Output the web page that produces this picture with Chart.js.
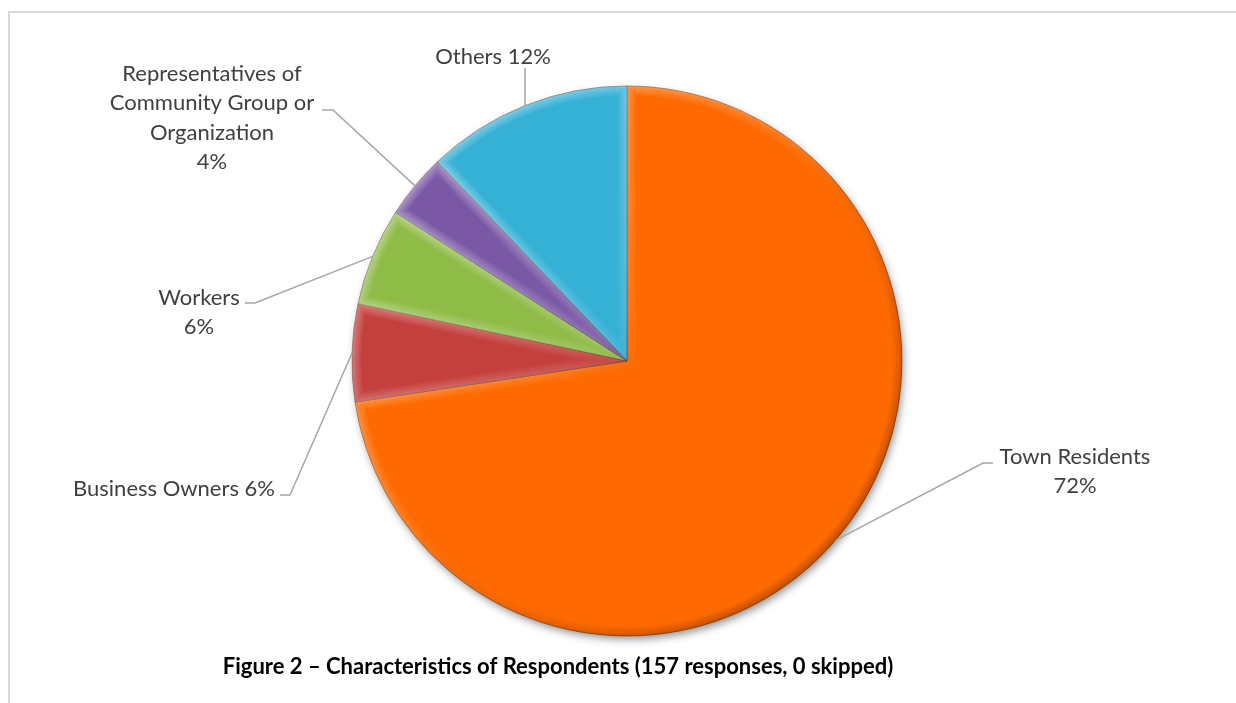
<!DOCTYPE html>
<html>
<head>
<meta charset="utf-8">
<title>Characteristics of Respondents</title>
<script src="https://cdn.jsdelivr.net/npm/chart.js@4.4.1/dist/chart.umd.min.js"></script>
<style>
  html, body { margin: 0; padding: 0; background: #fff; overflow: hidden; }
  #wrap { position: relative; width: 1236px; height: 703px; overflow: hidden; }
  #frame {
    position: absolute; left: 8px; top: 11px; width: 1260px; height: 740px;
    border: 2px solid #d9d9d9; box-sizing: border-box;
  }
  canvas { position: absolute; left: 0; top: 0; }
</style>
</head>
<body>
<div id="wrap">
  <div id="frame"></div>
  <canvas id="respondents-chart" width="1236" height="703"></canvas>
</div>
<script>
// Survey data (157 responses)
const categories = ['Town Residents', 'Business Owners', 'Workers',
  'Representatives of Community Group or Organization', 'Others'];
const responses = [114, 9, 9, 6, 19];
const percentLabels = ['72%', '6%', '6%', '4%', '12%'];
const sliceColors = ['#ff6a00', '#c4403d', '#8fbb47', '#7b58a6', '#36b1d6'];
const figureTitle = 'Figure 2 \u2013 Characteristics of Respondents (157 responses, 0 skipped)';

// label layout: text lines, text anchor, and the elbow of the leader line
const labelLayout = [
  { lines: [categories[0], percentLabels[0]], x: 1075, y: 457, elbow: [983, 463], end: [993, 463] },
  { lines: [categories[1] + ' ' + percentLabels[1]], x: 174, y: 489, elbow: [290, 495], end: [280, 495] },
  { lines: [categories[2], percentLabels[2]], x: 199, y: 298, elbow: [255, 303], end: [245, 303] },
  { lines: ['Representatives of', 'Community Group or', 'Organization', percentLabels[3]], x: 212, y: 74, elbow: [333, 110], end: [322, 110] },
  { lines: [categories[4] + ' ' + percentLabels[4]], x: 493, y: 57, elbow: null, end: [525, 68] }
];

const LABEL_FONT = '22px Lato, "Open Sans", sans-serif';
const TITLE_FONT = 'bold 22px Lato, "Open Sans", sans-serif';

// soft drop shadow under the whole pie
const shadowPlugin = {
  id: 'pieShadow',
  beforeDatasetsDraw(chart) {
    const arc = chart.getDatasetMeta(0).data[0];
    if (!arc) return;
    const { x, y, outerRadius } = arc.getProps(['x', 'y', 'outerRadius'], true);
    const ctx = chart.ctx;
    ctx.save();
    ctx.shadowColor = 'rgba(0,0,0,0.45)';
    ctx.shadowBlur = 9;
    ctx.shadowOffsetX = 2;
    ctx.shadowOffsetY = 4;
    ctx.fillStyle = '#fff';
    ctx.beginPath();
    ctx.arc(x, y, outerRadius - 1, 0, Math.PI * 2);
    ctx.fill();
    ctx.restore();
  }
};

// bevel look: soft light rim on the upper-left side, dark rim on the lower-right side
const bevelPlugin = {
  id: 'bevel',
  afterDatasetsDraw(chart) {
    const ctx = chart.ctx;
    chart.getDatasetMeta(0).data.forEach(arc => {
      const p = arc.getProps(['x', 'y', 'startAngle', 'endAngle', 'outerRadius'], true);
      const path = () => {
        ctx.beginPath();
        ctx.moveTo(p.x, p.y);
        ctx.arc(p.x, p.y, p.outerRadius, p.startAngle, p.endAngle);
        ctx.closePath();
      };
      ctx.save();
      path();
      ctx.clip();
      const g = ctx.createLinearGradient(p.x - p.outerRadius, p.y - p.outerRadius,
                                         p.x + p.outerRadius, p.y + p.outerRadius);
      g.addColorStop(0, 'rgba(255,255,255,0.9)');
      g.addColorStop(0.45, 'rgba(255,255,255,0.25)');
      g.addColorStop(0.6, 'rgba(0,0,0,0.1)');
      g.addColorStop(1, 'rgba(0,0,0,0.7)');
      ctx.strokeStyle = g;
      [18, 14, 10, 6, 3].forEach(w => {
        path();
        ctx.globalAlpha = 0.12;
        ctx.lineWidth = w;
        ctx.stroke();
      });
      ctx.restore();
    });
  }
};

// data labels with leader lines, plus the figure caption
const labelPlugin = {
  id: 'leaderLabels',
  afterDraw(chart) {
    const ctx = chart.ctx;
    const arcs = chart.getDatasetMeta(0).data;
    ctx.save();
    labelLayout.forEach((lab, i) => {
      const arc = arcs[i];
      const p = arc.getProps(['x', 'y', 'startAngle', 'endAngle', 'outerRadius'], true);
      const mid = (p.startAngle + p.endAngle) / 2;
      const ax = p.x + Math.cos(mid) * p.outerRadius;
      const ay = p.y + Math.sin(mid) * p.outerRadius;
      ctx.strokeStyle = '#a6a6a6';
      ctx.lineWidth = 1.5;
      ctx.beginPath();
      ctx.moveTo(ax, ay);
      if (lab.elbow) ctx.lineTo(lab.elbow[0], lab.elbow[1]);
      ctx.lineTo(lab.end[0], lab.end[1]);
      ctx.stroke();

      ctx.fillStyle = '#404040';
      ctx.font = LABEL_FONT;
      ctx.textAlign = 'center';
      ctx.textBaseline = 'middle';
      lab.lines.forEach((line, j) => ctx.fillText(line, lab.x, lab.y + j * 29.3));
    });

    ctx.fillStyle = '#000';
    ctx.font = TITLE_FONT;
    ctx.textAlign = 'center';
    ctx.textBaseline = 'middle';
    ctx.fillText(figureTitle, 558, 667);
    ctx.restore();
  }
};

new Chart(document.getElementById('respondents-chart'), {
  type: 'pie',
  data: {
    labels: categories,
    datasets: [{
      data: responses,
      backgroundColor: sliceColors,
      borderColor: 'rgba(60,30,10,0.45)',
      borderWidth: 1,
      radius: 275,
      hoverOffset: 0
    }]
  },
  options: {
    responsive: false,
    animation: false,
    layout: { padding: { left: 18, top: 19, right: 0, bottom: 0 } },
    plugins: {
      legend: { display: false },
      tooltip: { enabled: false }
    },
    events: []
  },
  plugins: [shadowPlugin, bevelPlugin, labelPlugin]
});
</script>
</body>
</html>
